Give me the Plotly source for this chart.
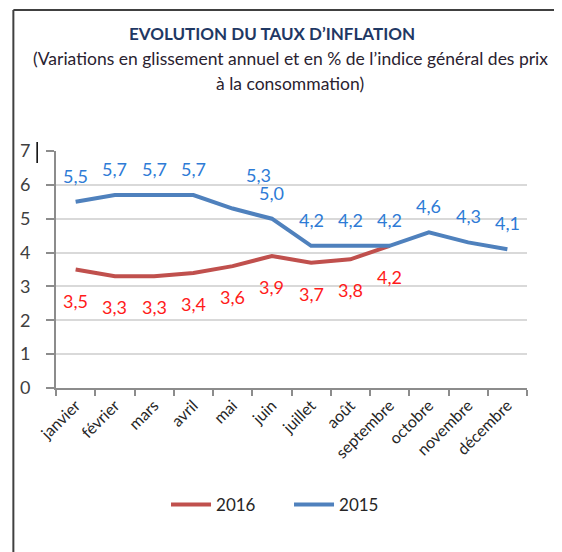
import plotly.graph_objects as go

mois = ["janvier", "février", "mars", "avril", "mai", "juin", "juillet",
        "août", "septembre", "octobre", "novembre", "décembre"]
taux_2016 = [3.5, 3.3, 3.3, 3.4, 3.6, 3.9, 3.7, 3.8, 4.2]
taux_2015 = [5.5, 5.7, 5.7, 5.7, 5.3, 5.0, 4.2, 4.2, 4.2, 4.6, 4.3, 4.1]

W, H = 562, 552
OFF = 8  # la page ajoute une marge de 8px autour du graphique
L, R, T, B = 52, 35, 151, 164
pw, ph = W - L - R, H - T - B


def px_x(x):
    return (x - L) / pw


def px_y(y):
    return (H - B - y) / ph


font = "Lato"
fig = go.Figure()
fig.add_trace(go.Scatter(x=mois[:len(taux_2016)], y=taux_2016, name="2016", mode="lines",
                         line=dict(color="#c0504d", width=4)))
fig.add_trace(go.Scatter(x=mois, y=taux_2015, name="2015", mode="lines",
                         line=dict(color="#4f81bd", width=4)))

ann = []
# petit décalage pour l'étiquette de mai qui chevauche celle de juin
decal_2015 = {4: (26, -8)}
for i, v in enumerate(taux_2015):
    dx, dy = decal_2015.get(i, (0, 0))
    ann.append(dict(x=mois[i], y=v, text=f"{v:.1f}".replace(".", ","), showarrow=False,
                    xshift=dx, yshift=26 - dy, font=dict(color="#2e7bd6", size=18, family=font)))
for i, v in enumerate(taux_2016):
    ann.append(dict(x=mois[i], y=v, text=f"{v:.1f}".replace(".", ","), showarrow=False,
                    yshift=-31, font=dict(color="#ff1a1a", size=18, family=font)))

ann.append(dict(xref="paper", yref="paper", x=px_x(270), y=px_y(21), showarrow=False,
                text="<b>EVOLUTION DU TAUX D’INFLATION</b>",
                font=dict(size=17, color="#1f3864", family=font)))
ann.append(dict(xref="paper", yref="paper", x=px_x(288), y=px_y(46), showarrow=False,
                text="(Variations en glissement annuel et en % de l’indice général des prix",
                font=dict(size=17.5, color="#2a2230", family=font)))
ann.append(dict(xref="paper", yref="paper", x=px_x(288), y=px_y(71), showarrow=False,
                text="à la consommation)",
                font=dict(size=17.5, color="#2a2230", family=font)))

shapes = [
    dict(type="line", xref="paper", yref="paper", x0=px_x(9), x1=px_x(570), y0=px_y(10), y1=px_y(10),
         line=dict(color="#404040", width=2)),
    dict(type="line", xref="paper", yref="paper", x0=px_x(9), x1=px_x(9), y0=px_y(10), y1=px_y(560),
         line=dict(color="#404040", width=2)),
    dict(type="line", xref="paper", yref="paper", x0=px_x(33), x1=px_x(33), y0=px_y(142), y1=px_y(163),
         line=dict(color="#000000", width=1.5)),
]

fig.update_layout(
    width=W, height=H,
    margin=dict(l=L - OFF, r=R + OFF, t=T - OFF, b=B + OFF),
    paper_bgcolor="white", plot_bgcolor="white",
    font=dict(family=font, color="#333333"),
    annotations=ann, shapes=shapes,
    legend=dict(orientation="h", x=px_x(287), xanchor="center", y=px_y(505), yanchor="middle",
                font=dict(size=17, color="#262626"), traceorder="normal",
                entrywidth=68, itemwidth=40),
    xaxis=dict(type="category", categoryorder="array", categoryarray=mois,
               range=[-0.5, 11.5], tickson="boundaries", ticks="outside", ticklen=6,
               tickcolor="#8c8c8c", tickwidth=2, showline=True, linecolor="#8c8c8c", linewidth=2,
               showgrid=False, tickangle=-45, tickfont=dict(size=16, color="#262626")),
    yaxis=dict(range=[0, 7], dtick=1, ticks="outside", ticklen=8, tickcolor="#8c8c8c",
               tickwidth=2, showline=True, linecolor="#8c8c8c", linewidth=2,
               showgrid=True, gridcolor="#d9d9d9", gridwidth=2, zeroline=False,
               ticklabelstandoff=12, tickfont=dict(size=18, color="#404040")),
)

fig.write_html("out.html")
